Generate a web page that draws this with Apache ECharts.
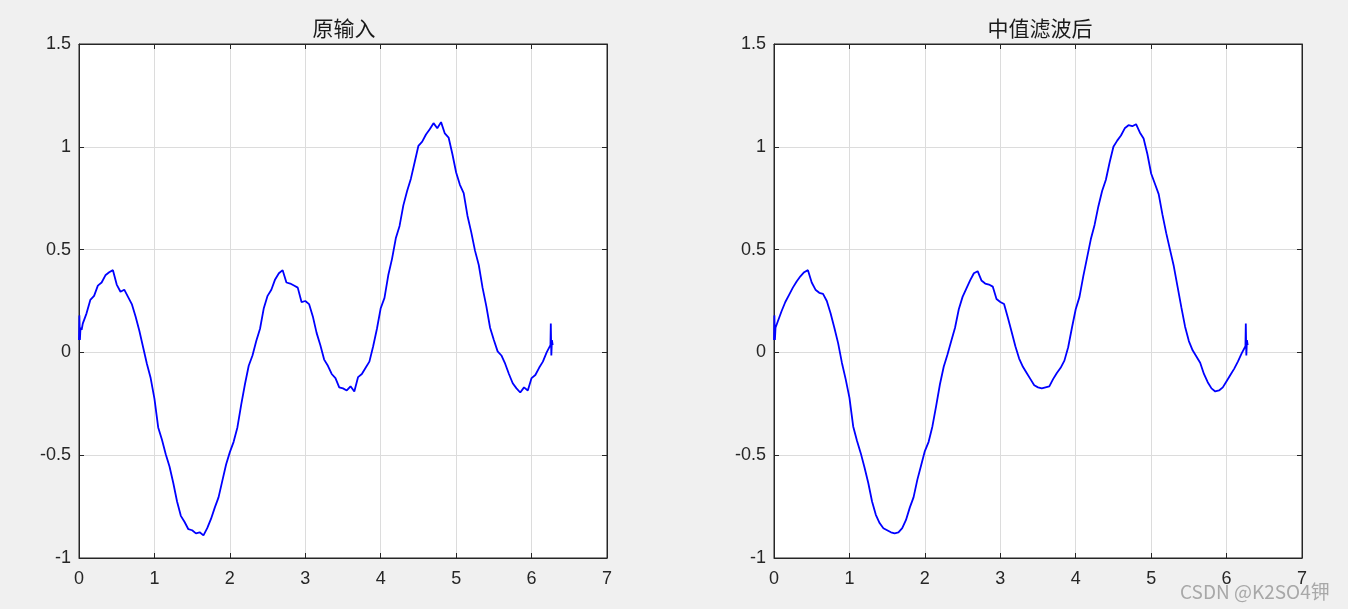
<!DOCTYPE html>
<html>
<head>
<meta charset="utf-8">
<script src="https://cdn.jsdelivr.net/npm/echarts@6/dist/echarts.min.js"></script>
<style>
html,body{margin:0;padding:0;background:#f0f0f0;}
#c{width:1348px;height:609px;}
</style>
</head>
<body>
<div id="c"></div>
<script>
const titles = ['原输入', '中值滤波后'];
const watermark = 'CSDN @K2SO4钾';

const xRaw = [0,0.005,0.012,0.02,0.035,0.05,0.10,0.15,0.20,0.25,0.30,0.35,0.40,0.45,0.50,0.55,0.60,0.65,0.70,0.75,0.80,0.85,0.90,0.95,1.00,1.05,1.10,1.15,1.20,1.25,1.30,1.35,1.40,1.45,1.50,1.55,1.60,1.65,1.70,1.75,1.80,1.85,1.90,1.95,2.00,2.05,2.10,2.15,2.20,2.25,2.30,2.35,2.40,2.45,2.50,2.55,2.60,2.65,2.70,2.75,2.80,2.85,2.90,2.95,3.00,3.05,3.10,3.15,3.20,3.25,3.30,3.35,3.40,3.45,3.50,3.55,3.60,3.65,3.70,3.75,3.80,3.85,3.90,3.95,4.00,4.05,4.10,4.15,4.20,4.25,4.30,4.35,4.40,4.45,4.50,4.55,4.60,4.65,4.70,4.75,4.80,4.85,4.90,4.95,5.00,5.05,5.10,5.15,5.20,5.25,5.30,5.35,5.40,5.45,5.50,5.55,5.60,5.65,5.70,5.75,5.80,5.85,5.90,5.95,6.00,6.05,6.10,6.15,6.20,6.25,6.255,6.262,6.27,6.28];
const yRaw = [0.06,0.18,0.06,0.12,0.11,0.14,0.19,0.255,0.275,0.325,0.34,0.375,0.39,0.40,0.33,0.295,0.305,0.27,0.235,0.175,0.105,0.025,-0.055,-0.125,-0.225,-0.365,-0.425,-0.495,-0.555,-0.635,-0.725,-0.795,-0.825,-0.86,-0.865,-0.88,-0.875,-0.89,-0.855,-0.81,-0.755,-0.705,-0.625,-0.545,-0.485,-0.435,-0.365,-0.255,-0.155,-0.065,-0.015,0.055,0.115,0.215,0.275,0.305,0.355,0.385,0.40,0.34,0.335,0.325,0.315,0.245,0.25,0.235,0.175,0.095,0.035,-0.035,-0.065,-0.105,-0.125,-0.17,-0.175,-0.185,-0.165,-0.19,-0.12,-0.105,-0.075,-0.045,0.03,0.115,0.215,0.265,0.375,0.455,0.555,0.615,0.715,0.785,0.845,0.925,1.005,1.025,1.06,1.085,1.115,1.09,1.12,1.065,1.045,0.965,0.875,0.815,0.775,0.665,0.585,0.495,0.425,0.315,0.225,0.12,0.06,0.005,-0.015,-0.055,-0.105,-0.15,-0.175,-0.195,-0.17,-0.185,-0.125,-0.11,-0.075,-0.045,0.0,0.035,0.14,-0.015,0.06,0.035];

const xFilt = xRaw;
const yFilt = [0.06,0.18,0.06,0.12,0.12,0.15,0.20,0.245,0.28,0.315,0.345,0.37,0.39,0.40,0.34,0.305,0.29,0.285,0.25,0.19,0.12,0.045,-0.05,-0.13,-0.22,-0.36,-0.43,-0.49,-0.56,-0.635,-0.725,-0.79,-0.83,-0.855,-0.865,-0.875,-0.88,-0.875,-0.855,-0.815,-0.755,-0.705,-0.62,-0.55,-0.48,-0.435,-0.36,-0.26,-0.155,-0.07,-0.01,0.055,0.12,0.21,0.27,0.31,0.35,0.385,0.395,0.35,0.335,0.33,0.32,0.26,0.245,0.235,0.17,0.10,0.03,-0.03,-0.07,-0.10,-0.13,-0.16,-0.17,-0.175,-0.17,-0.165,-0.13,-0.10,-0.075,-0.04,0.025,0.12,0.21,0.27,0.37,0.46,0.55,0.62,0.71,0.785,0.84,0.925,1.0,1.03,1.055,1.09,1.105,1.10,1.11,1.07,1.04,0.965,0.87,0.82,0.77,0.67,0.58,0.50,0.42,0.32,0.22,0.125,0.055,0.01,-0.02,-0.05,-0.105,-0.145,-0.175,-0.19,-0.185,-0.17,-0.14,-0.11,-0.08,-0.045,-0.005,0.03,0.14,-0.015,0.06,0.035];

const xMin = 0, xMax = 7, xStep = 1;
const yMin = -1, yMax = 1.5, yStep = 0.5;

const chart = echarts.init(document.getElementById('c'));
const lefts = [79, 774];
const axisColor = '#262626';
const font = 'Arial, "Liberation Sans", "Noto Sans CJK SC", sans-serif';

const grids = lefts.map(l => ({left:l, top:44, width:528, height:514, show:true, backgroundColor:'#ffffff', borderColor:axisColor, borderWidth:1, containLabel:false}));

const xAxes = [], yAxes = [];
[0,1].forEach(g => {
  xAxes.push({type:'value', gridIndex:g, position:'bottom', min:xMin, max:xMax, interval:xStep,
    axisLine:{show:true, onZero:false, lineStyle:{color:axisColor, width:1}},
    axisTick:{show:true, inside:true, length:5, lineStyle:{color:axisColor}},
    axisLabel:{show:true, color:axisColor, fontSize:18, fontFamily:font, margin:12},
    splitLine:{show:true, lineStyle:{color:'#dcdcdc', width:1}}});
  xAxes.push({type:'value', gridIndex:g, position:'top', min:xMin, max:xMax, interval:xStep,
    axisLine:{show:true, onZero:false, lineStyle:{color:axisColor, width:1}},
    axisTick:{show:true, inside:true, length:5, lineStyle:{color:axisColor}},
    axisLabel:{show:false}, splitLine:{show:false}});
  yAxes.push({type:'value', gridIndex:g, position:'left', min:yMin, max:yMax, interval:yStep,
    axisLine:{show:true, onZero:false, lineStyle:{color:axisColor, width:1}},
    axisTick:{show:true, inside:true, length:5, lineStyle:{color:axisColor}},
    axisLabel:{show:true, color:axisColor, fontSize:18, fontFamily:font, margin:8},
    splitLine:{show:true, lineStyle:{color:'#dcdcdc', width:1}}});
  yAxes.push({type:'value', gridIndex:g, position:'right', min:yMin, max:yMax, interval:yStep,
    axisLine:{show:true, onZero:false, lineStyle:{color:axisColor, width:1}},
    axisTick:{show:true, inside:true, length:5, lineStyle:{color:axisColor}},
    axisLabel:{show:false}, splitLine:{show:false}});
});

const pairs = (xs, ys) => xs.map((x, i) => [x, ys[i]]);

chart.setOption({
  backgroundColor:'#f0f0f0',
  animation:false,
  grid:grids,
  xAxis:xAxes,
  yAxis:yAxes,
  series:[
    {type:'line', xAxisIndex:0, yAxisIndex:0, data:pairs(xRaw, yRaw), showSymbol:false, symbol:'none',
      lineStyle:{color:'#0000ff', width:1.8}, z:5},
    {type:'line', xAxisIndex:2, yAxisIndex:2, data:pairs(xFilt, yFilt), showSymbol:false, symbol:'none',
      lineStyle:{color:'#0000ff', width:1.8}, z:5}
  ],
  graphic:[
    {type:'text', x:344, y:28, style:{text:titles[0], fill:'#1a1a1a', align:'center', verticalAlign:'middle', font:'21px "Noto Sans CJK SC", sans-serif'}},
    {type:'text', x:1040, y:28, style:{text:titles[1], fill:'#1a1a1a', align:'center', verticalAlign:'middle', font:'21px "Noto Sans CJK SC", sans-serif'}},
    {type:'text', x:1180, y:592, style:{text:watermark, fill:'#a8a8a8', align:'left', verticalAlign:'middle', font:'19px "Noto Sans CJK SC", sans-serif'}, z:100}
  ]
});
</script>
</body>
</html>
